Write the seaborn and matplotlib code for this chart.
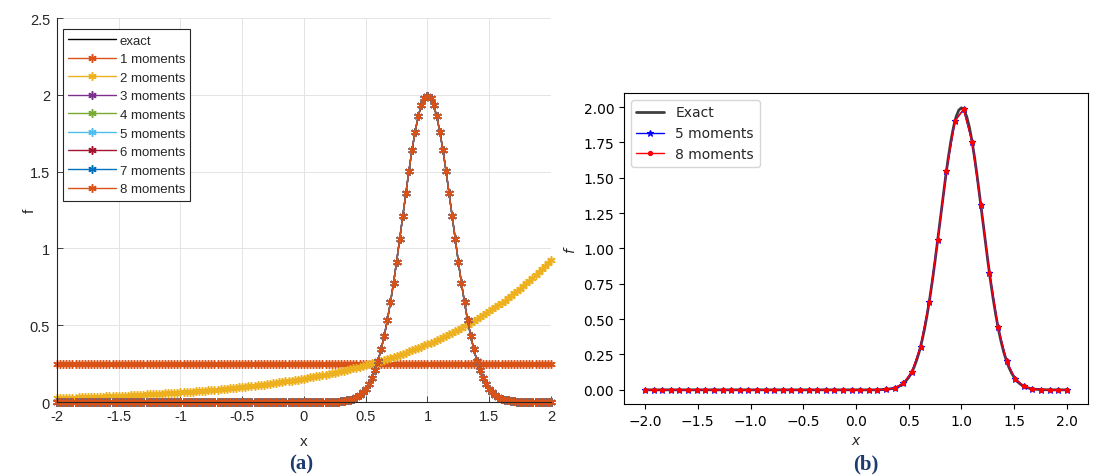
import numpy as np
import matplotlib
matplotlib.use("Agg")
import matplotlib.pyplot as plt
import seaborn as sns

# ---------------------------------------------------------------------------
# Data
# ---------------------------------------------------------------------------
# evaluation grids
x_fine = np.linspace(-2, 2, 161)     # step 0.025
x_coarse = np.linspace(-2, 2, 50)

# exact density (Gaussian bump centred at x = 1)
f_exact = [
    0.0, 0.0, 0.0, 0.0, 0.0, 0.0, 0.0, 0.0, 0.0, 0.0, 0.0,
    0.0, 0.0, 0.0, 0.0, 0.0, 0.0, 0.0, 0.0, 0.0, 0.0, 0.0,
    0.0, 0.0, 0.0, 0.0, 0.0, 0.0, 0.0, 0.0, 0.0, 0.0, 0.0,
    0.0, 0.0, 0.0, 0.0, 0.0, 0.0, 0.0, 0.0, 0.0, 0.0, 0.0,
    0.0, 0.0, 0.0, 0.0, 0.0, 0.0, 0.0, 0.0, 0.0, 0.0, 0.0,
    0.0, 0.0, 0.0, 0.0, 0.0, 0.0, 0.0, 0.0, 0.0, 0.0, 0.0,
    0.0, 0.0, 0.0, 0.0, 0.0, 0.0, 0.0, 0.0, 0.0, 0.0, 0.0,
    0.0, 0.0, 0.0, 0.0, 0.0, 0.0, 0.0, 0.0, 0.0, 0.0, 0.0,
    0.001, 0.001, 0.002, 0.003, 0.004, 0.007, 0.010, 0.015, 0.022, 0.032,
    0.045, 0.064, 0.088, 0.119, 0.159, 0.209, 0.270, 0.344, 0.431, 0.533,
    0.648, 0.775, 0.913, 1.059, 1.210, 1.360, 1.506, 1.641, 1.760, 1.859,
    1.933, 1.979, 1.995, 1.979, 1.933,
    1.859, 1.760, 1.641, 1.506, 1.360, 1.210, 1.059, 0.913, 0.775, 0.648,
    0.533, 0.431, 0.344, 0.270, 0.209, 0.159, 0.119, 0.088, 0.064, 0.045,
    0.032, 0.022, 0.015, 0.010, 0.007, 0.004, 0.003, 0.002, 0.001, 0.001,
    0.0, 0.0, 0.0, 0.0, 0.0, 0.0, 0.0, 0.0,
]

# maximum-entropy reconstruction with 1 moment (flat)
f_one = [
    0.25, 0.25, 0.25, 0.25, 0.25, 0.25, 0.25, 0.25, 0.25, 0.25, 0.25, 0.25, 0.25, 0.25, 0.25, 0.25, 0.25, 0.25, 0.25, 0.25, 0.25, 0.25, 0.25,
    0.25, 0.25, 0.25, 0.25, 0.25, 0.25, 0.25, 0.25, 0.25, 0.25, 0.25, 0.25, 0.25, 0.25, 0.25, 0.25, 0.25, 0.25, 0.25, 0.25, 0.25, 0.25, 0.25,
    0.25, 0.25, 0.25, 0.25, 0.25, 0.25, 0.25, 0.25, 0.25, 0.25, 0.25, 0.25, 0.25, 0.25, 0.25, 0.25, 0.25, 0.25, 0.25, 0.25, 0.25, 0.25, 0.25,
    0.25, 0.25, 0.25, 0.25, 0.25, 0.25, 0.25, 0.25, 0.25, 0.25, 0.25, 0.25, 0.25, 0.25, 0.25, 0.25, 0.25, 0.25, 0.25, 0.25, 0.25, 0.25, 0.25,
    0.25, 0.25, 0.25, 0.25, 0.25, 0.25, 0.25, 0.25, 0.25, 0.25, 0.25, 0.25, 0.25, 0.25, 0.25, 0.25, 0.25, 0.25, 0.25, 0.25, 0.25, 0.25, 0.25,
    0.25, 0.25, 0.25, 0.25, 0.25, 0.25, 0.25, 0.25, 0.25, 0.25, 0.25, 0.25, 0.25, 0.25, 0.25, 0.25, 0.25, 0.25, 0.25, 0.25, 0.25, 0.25, 0.25,
    0.25, 0.25, 0.25, 0.25, 0.25, 0.25, 0.25, 0.25, 0.25, 0.25, 0.25, 0.25, 0.25, 0.25, 0.25, 0.25, 0.25, 0.25, 0.25, 0.25, 0.25, 0.25, 0.25,
]

# maximum-entropy reconstruction with 2 moments (exponential)
f_two = [
    0.025, 0.026, 0.026, 0.027, 0.028, 0.028, 0.029, 0.030, 0.030, 0.031,
    0.032, 0.032, 0.033, 0.034, 0.035, 0.035, 0.036, 0.037, 0.038, 0.039,
    0.040, 0.041, 0.041, 0.042, 0.043, 0.044, 0.045, 0.046, 0.047, 0.049,
    0.050, 0.051, 0.052, 0.053, 0.054, 0.056, 0.057, 0.058, 0.059, 0.061,
    0.062, 0.064, 0.065, 0.067, 0.068, 0.070, 0.071, 0.073, 0.074, 0.076,
    0.078, 0.080, 0.081, 0.083, 0.085, 0.087, 0.089, 0.091, 0.093, 0.095,
    0.098, 0.100, 0.102, 0.104, 0.107, 0.109, 0.112, 0.114, 0.117, 0.119,
    0.122, 0.125, 0.128, 0.131, 0.134, 0.137, 0.140, 0.143, 0.146, 0.150,
    0.153, 0.156, 0.160, 0.164, 0.167, 0.171, 0.175, 0.179, 0.183, 0.187,
    0.192, 0.196, 0.200, 0.205, 0.210, 0.214, 0.219, 0.224, 0.229, 0.235,
    0.240, 0.245, 0.251, 0.257, 0.263, 0.269, 0.275, 0.281, 0.287, 0.294,
    0.301, 0.307, 0.314, 0.321, 0.329, 0.336, 0.344, 0.352, 0.360, 0.368,
    0.376, 0.385, 0.394, 0.403, 0.412, 0.421, 0.431, 0.441, 0.451, 0.461,
    0.471, 0.482, 0.493, 0.504, 0.516, 0.527, 0.539, 0.552, 0.564, 0.577,
    0.590, 0.604, 0.617, 0.631, 0.646, 0.660, 0.675, 0.691, 0.707, 0.723,
    0.739, 0.756, 0.773, 0.791, 0.809, 0.827, 0.846, 0.865, 0.885, 0.905,
    0.926,
]

# reconstructions with 3..8 moments coincide with the exact density
moment_labels = ["1 moments", "2 moments", "3 moments", "4 moments",
                 "5 moments", "6 moments", "7 moments", "8 moments"]
moment_values = [f_one, f_two, f_exact, f_exact, f_exact, f_exact, f_exact, f_exact]

# panel (b): reconstructions sampled on the coarse grid
f_five = [
    0.0, 0.0, 0.0, 0.0, 0.0, 0.0, 0.0, 0.0, 0.0, 0.0,
    0.0, 0.0, 0.0, 0.0, 0.0, 0.0, 0.0, 0.0, 0.0, 0.0,
    0.0, 0.0, 0.0, 0.0, 0.0, 0.0, 0.0,
    0.001, 0.003, 0.013, 0.045, 0.127, 0.305, 0.618, 1.062, 1.546, 1.903,
    1.984, 1.751, 1.308, 0.828, 0.443, 0.201, 0.077, 0.025, 0.007, 0.002,
    0.0, 0.0, 0.0,
]
f_eight = [
    0.0, 0.0, 0.0, 0.0, 0.0, 0.0, 0.0, 0.0, 0.0, 0.0,
    0.0, 0.0, 0.0, 0.0, 0.0, 0.0, 0.0, 0.0, 0.0, 0.0,
    0.0, 0.0, 0.0, 0.0, 0.0, 0.0, 0.0,
    0.001, 0.003, 0.013, 0.045, 0.127, 0.305, 0.618, 1.062, 1.546, 1.903,
    1.984, 1.751, 1.308, 0.828, 0.443, 0.201, 0.077, 0.025, 0.007, 0.002,
    0.0, 0.0, 0.0,
]

# tick positions / labels
xticks_a = [-2, -1.5, -1, -0.5, 0, 0.5, 1, 1.5, 2]
xticklabels_a = ["-2", "-1.5", "-1", "-0.5", "0", "0.5", "1", "1.5", "2"]
yticks_a = [0, 0.5, 1, 1.5, 2, 2.5]
yticklabels_a = ["0", "0.5", "1", "1.5", "2", "2.5"]
xticks_b = [-2.0, -1.5, -1.0, -0.5, 0.0, 0.5, 1.0, 1.5, 2.0]
yticks_b = [0.0, 0.25, 0.5, 0.75, 1.0, 1.25, 1.5, 1.75, 2.0]

# ---------------------------------------------------------------------------
# Style
# ---------------------------------------------------------------------------
sns.set_style("ticks")
plt.rcParams["font.family"] = ["DejaVu Sans"]
plt.rcParams["axes.unicode_minus"] = True

matlab_colors = [
    (0.850, 0.325, 0.098),
    (0.929, 0.694, 0.125),
    (0.494, 0.184, 0.556),
    (0.466, 0.674, 0.188),
    (0.301, 0.745, 0.933),
    (0.635, 0.078, 0.184),
    (0.000, 0.447, 0.741),
    (0.850, 0.325, 0.098),
]
asterisk = (6, 2, 0)
ax_col = "#262626"
sans_a = "Liberation Sans"

fig = plt.figure(figsize=(10.96, 4.77), dpi=100)
axA = fig.add_axes([0.052, 0.1551, 0.4507, 0.805])
axB = fig.add_axes([0.5693, 0.151, 0.4234, 0.652])

# ---------------------------------------------------------------------------
# Panel (a)
# ---------------------------------------------------------------------------
sns.lineplot(x=x_fine, y=f_exact, ax=axA, color="k", linewidth=1.0,
             label="exact", estimator=None, sort=False)
for lab, vals, col in zip(moment_labels, moment_values, matlab_colors):
    sns.lineplot(x=x_fine, y=vals, ax=axA, color=col, linewidth=1.0,
                 marker=asterisk, markersize=6, markeredgewidth=1.1,
                 markeredgecolor=col, markerfacecolor=col,
                 label=lab, estimator=None, sort=False, clip_on=False)

axA.set_xlim(-2, 2)
axA.set_ylim(0, 2.5)
axA.set_xticks(xticks_a)
axA.set_xticklabels(xticklabels_a, family=sans_a, fontsize=10.5, color=ax_col)
axA.set_yticks(yticks_a)
axA.set_yticklabels(yticklabels_a, family=sans_a, fontsize=10.5, color=ax_col)
axA.grid(True, color="#e4e4e4", linewidth=0.7)
axA.set_axisbelow(True)
for side in ("top", "right"):
    axA.spines[side].set_visible(False)
for side in ("left", "bottom"):
    axA.spines[side].set_color(ax_col)
    axA.spines[side].set_linewidth(0.8)
axA.tick_params(direction="in", length=4, width=0.6, color=ax_col, pad=5)
axA.set_xlabel("x", family=sans_a, fontsize=11, color=ax_col)
axA.xaxis.set_label_coords(0.5, -0.083)
axA.set_ylabel("f", family=sans_a, fontsize=11, color=ax_col)
axA.yaxis.set_label_coords(-0.040, 0.5)

legA = axA.legend(loc="upper left", bbox_to_anchor=(0.012, 0.971),
                  borderaxespad=0, fancybox=False, framealpha=1,
                  edgecolor="#262626", handlelength=3.6, handletextpad=0.3,
                  labelspacing=0.48, borderpad=0.4,
                  prop={"family": sans_a, "size": 9.5})
legA.get_frame().set_linewidth(0.8)

# ---------------------------------------------------------------------------
# Panel (b)
# ---------------------------------------------------------------------------
sns.lineplot(x=x_fine, y=f_exact, ax=axB, color="k", linewidth=2.0,
             alpha=0.75, label="Exact", estimator=None, sort=False)
sns.lineplot(x=x_coarse, y=f_five, ax=axB, color="blue", linewidth=1.0,
             marker="*", markersize=5, markeredgewidth=0.8,
             markeredgecolor="blue", markerfacecolor="blue",
             label="5 moments", estimator=None, sort=False)
sns.lineplot(x=x_coarse, y=f_eight, ax=axB, color="red", linewidth=1.0,
             marker=".", markersize=6, markeredgewidth=0.8,
             markeredgecolor="red", markerfacecolor="red",
             label="8 moments", estimator=None, sort=False)

axB.set_xlim(-2.2, 2.2)
axB.set_ylim(-0.1, 2.1)
axB.set_xticks(xticks_b)
axB.set_yticks(yticks_b)
axB.yaxis.set_major_formatter(matplotlib.ticker.FormatStrFormatter("%.2f"))
for side in ("top", "right", "left", "bottom"):
    axB.spines[side].set_visible(True)
    axB.spines[side].set_color("black")
    axB.spines[side].set_linewidth(0.8)
axB.tick_params(direction="out", length=3.5, width=0.8, color="black",
                labelsize=10, labelcolor="black")
axB.set_xlabel("$x$", fontsize=10)
axB.set_ylabel("$f$", fontsize=10)
axB.legend(loc="upper left", fontsize=10)

# ---------------------------------------------------------------------------
# Panel captions
# ---------------------------------------------------------------------------
cap_style = dict(ha="center", va="center", family="Liberation Serif",
                 fontweight="bold", fontsize=15, color="#1f3a6e")
fig.text(301 / 1096, 1 - 464 / 477, "(a)", **cap_style)
fig.text(866 / 1096, 1 - 464 / 477, "(b)", **cap_style)

fig.savefig("out.png", dpi=100)
